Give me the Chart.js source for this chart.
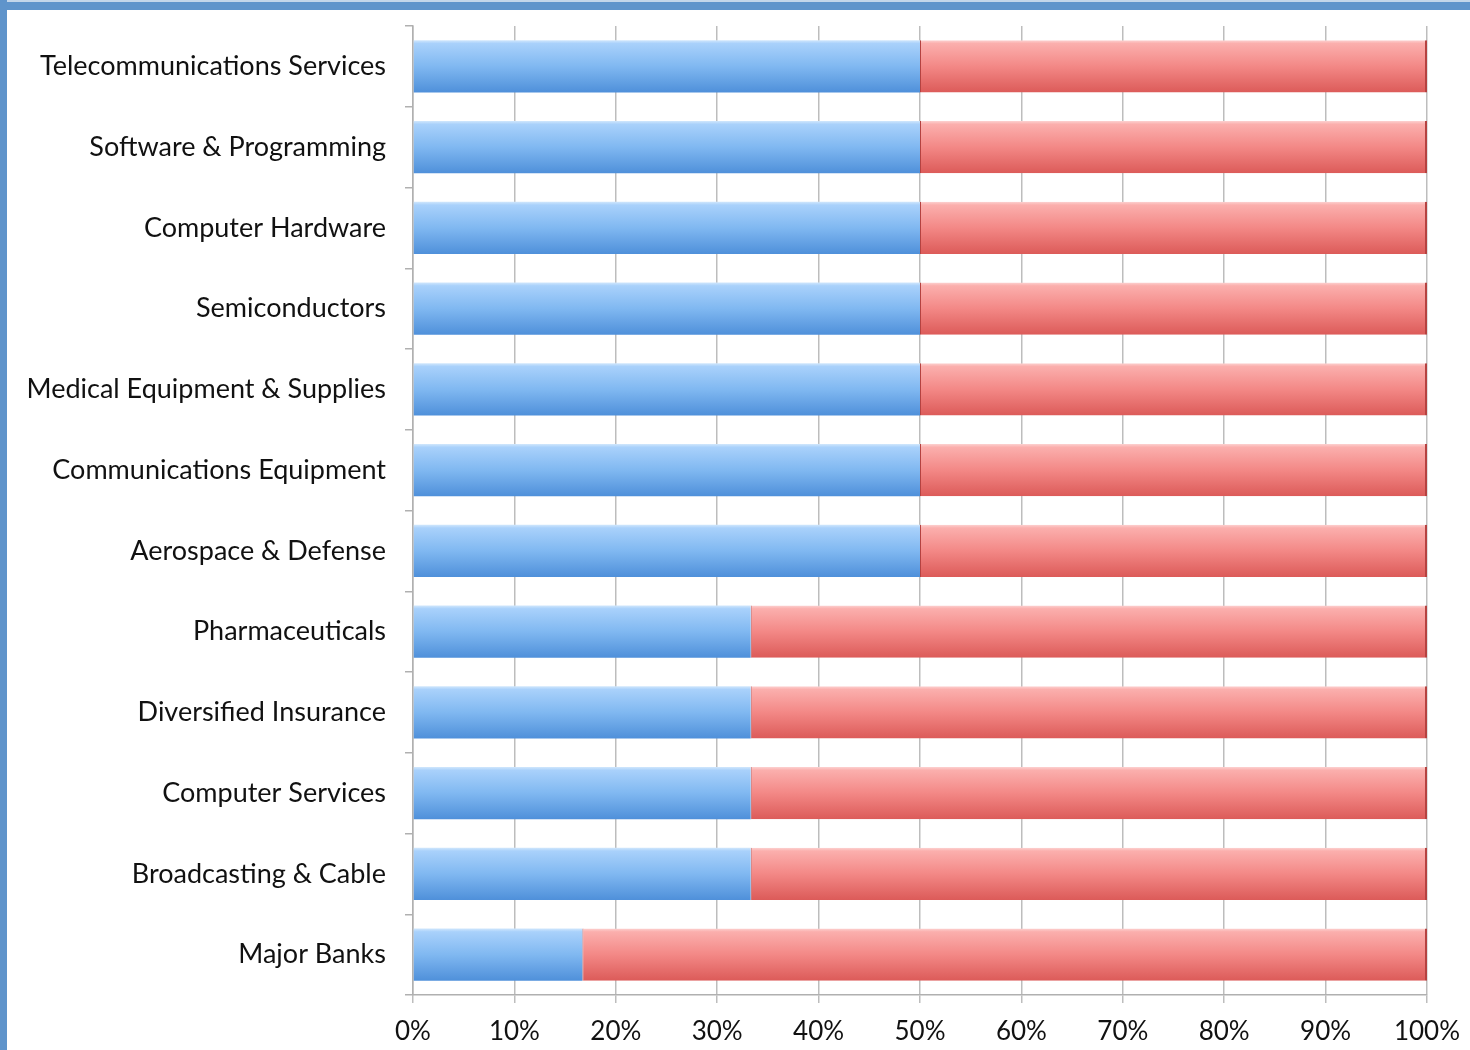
<!DOCTYPE html>
<html>
<head>
<meta charset="utf-8">
<script src="https://cdn.jsdelivr.net/npm/chart.js@4/dist/chart.umd.min.js"></script>
<style>
    html, body { margin: 0; padding: 0; background: #ffffff; }
    #wrap { position: relative; width: 1470px; height: 1050px; overflow: hidden; }
    #chart { position: absolute; left: 0; top: 0; }
    .frame-top { position: absolute; left: 0; top: 0; width: 1470px; height: 10px; background: #5f94cb; border-top: 2px solid #c3d6ea; box-sizing: border-box; }
    .frame-left { position: absolute; left: 0; top: 0; width: 7px; height: 1050px; background: #5f94cb; }
</style>
</head>
<body>
<div id="wrap">
    <canvas id="chart" width="1470" height="1050"></canvas>
    <div class="frame-top"></div>
    <div class="frame-left"></div>
</div>
<script>
// Industry categories, top to bottom
const categories = [
    'Telecommunications Services',
    'Software & Programming',
    'Computer Hardware',
    'Semiconductors',
    'Medical Equipment & Supplies',
    'Communications Equipment',
    'Aerospace & Defense',
    'Pharmaceuticals',
    'Diversified Insurance',
    'Computer Services',
    'Broadcasting & Cable',
    'Major Banks'
];

// Share of each category, in percent
const blueShare = [50, 50, 50, 50, 50, 50, 50, 33.3, 33.3, 33.3, 33.3, 16.7];
const redShare = [50, 50, 50, 50, 50, 50, 50, 66.7, 66.7, 66.7, 66.7, 83.3];

// Percent axis ticks
const xTicks = [0, 10, 20, 30, 40, 50, 60, 70, 80, 90, 100];

const FONT = 'Lato, "DejaVu Sans", sans-serif';

// Vertical gradient across a single bar
function barGradient(stops) {
    return function(ctx) {
        const chart = ctx.chart;
        const yScale = chart.scales.y;
        if (!yScale || ctx.dataIndex === undefined) return stops[2][1];
        const centre = yScale.getPixelForValue(ctx.dataIndex);
        if (!isFinite(centre)) return stops[2][1];
        const half = 26;
        const g = chart.ctx.createLinearGradient(0, centre - half, 0, centre + half);
        stops.forEach(s => g.addColorStop(s[0], s[1]));
        return g;
    };
}

const blueStops = [[0, '#cfe6fc'], [0.06, '#a9d1fb'], [0.5, '#80b8f1'], [1, '#4f90da']];
const redStops = [[0, '#fcd0cf'], [0.06, '#fbafad'], [0.5, '#f38886'], [1, '#dc5b59']];

new Chart(document.getElementById('chart'), {
    type: 'bar',
    data: {
        labels: categories,
        datasets: [{
            data: blueShare,
            backgroundColor: barGradient(blueStops),
            borderWidth: 0,
            barPercentage: 0.645,
            categoryPercentage: 1
        }, {
            data: redShare,
            backgroundColor: barGradient(redStops),
            borderColor: '#b54240',
            borderWidth: { right: 2, left: 1, top: 0, bottom: 0 },
            borderSkipped: false,
            barPercentage: 0.645,
            categoryPercentage: 1
        }]
    },
    options: {
        indexAxis: 'y',
        responsive: false,
        animation: false,
        layout: {
            padding: { top: 26, right: 43, bottom: 0, left: 0 }
        },
        plugins: {
            legend: { display: false },
            tooltip: { enabled: false }
        },
        scales: {
            x: {
                stacked: true,
                min: 0,
                max: 100,
                afterBuildTicks: function(scale) {
                    scale.ticks = xTicks.map(v => ({ value: v }));
                },
                afterFit: function(scale) {
                    scale.height = 55;
                    scale.paddingLeft = 0;
                    scale.paddingRight = 0;
                },
                grid: {
                    color: '#bdbdbd',
                    lineWidth: 1.5,
                    tickLength: 8
                },
                border: { color: '#b0b0b0', width: 1.5 },
                ticks: {
                    padding: 13,
                    color: '#111111',
                    font: { family: FONT, size: 26 },
                    callback: v => v + '%'
                }
            },
            y: {
                stacked: true,
                afterFit: function(scale) {
                    scale.width = 413;
                    scale.paddingTop = 0;
                    scale.paddingBottom = 0;
                },
                grid: {
                    drawOnChartArea: false,
                    color: '#b0b0b0',
                    lineWidth: 1.5,
                    tickLength: 8,
                    offset: true
                },
                border: { color: '#b0b0b0', width: 1.5 },
                ticks: {
                    padding: 19,
                    color: '#111111',
                    font: { family: FONT, size: 27 }
                }
            }
        }
    }
});
</script>
</body>
</html>
